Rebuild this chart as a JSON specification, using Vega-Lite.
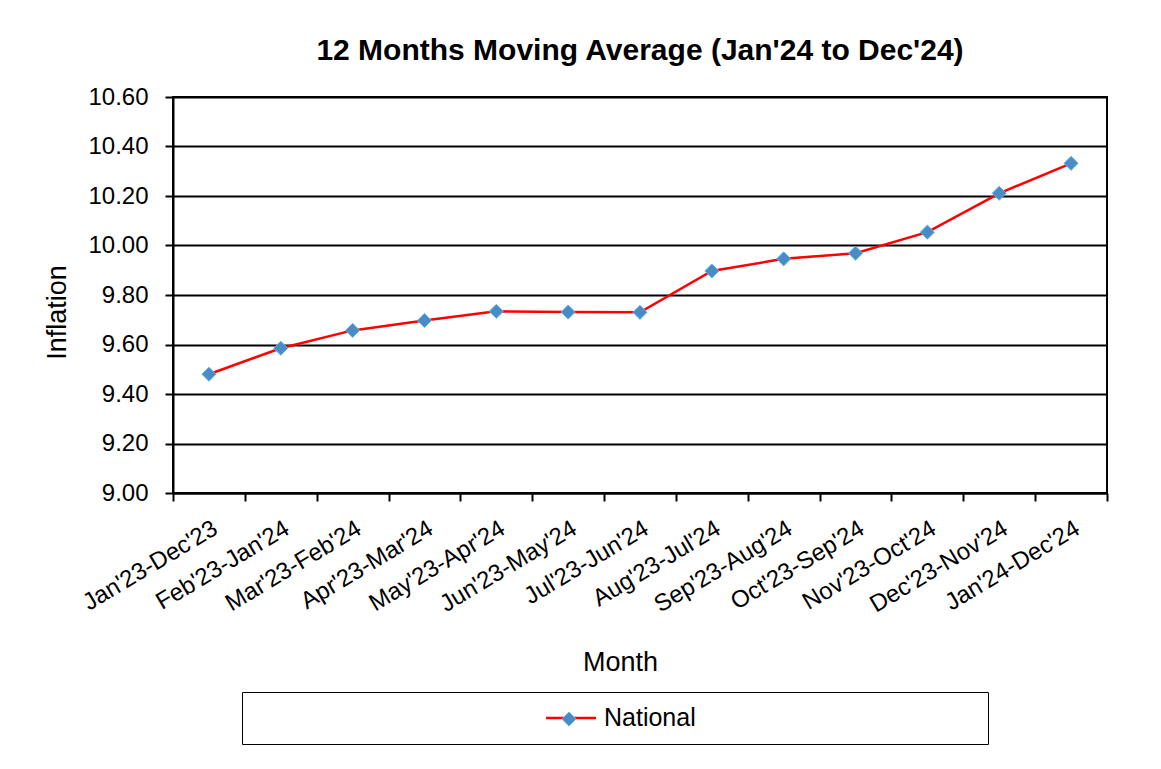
{
  "$schema": "https://vega.github.io/schema/vega-lite/v6.json",
  "width": 934,
  "height": 396,
  "padding": {"left": 43, "top": 36, "right": 5, "bottom": 5},
  "background": "white",
  "title": {
    "text": "12 Months Moving Average (Jan'24 to Dec'24)",
    "font": "Liberation Sans",
    "fontSize": 30,
    "fontWeight": "bold",
    "color": "black",
    "anchor": "middle",
    "offset": 19
  },
  "data": {
    "values": [
      {"period": "Jan'23-Dec'23", "inflation": 9.48, "series": "National"},
      {"period": "Feb'23-Jan'24", "inflation": 9.585, "series": "National"},
      {"period": "Mar'23-Feb'24", "inflation": 9.657, "series": "National"},
      {"period": "Apr'23-Mar'24", "inflation": 9.697, "series": "National"},
      {"period": "May'23-Apr'24", "inflation": 9.734, "series": "National"},
      {"period": "Jun'23-May'24", "inflation": 9.731, "series": "National"},
      {"period": "Jul'23-Jun'24", "inflation": 9.73, "series": "National"},
      {"period": "Aug'23-Jul'24", "inflation": 9.897, "series": "National"},
      {"period": "Sep'23-Aug'24", "inflation": 9.946, "series": "National"},
      {"period": "Oct'23-Sep'24", "inflation": 9.969, "series": "National"},
      {"period": "Nov'23-Oct'24", "inflation": 10.054, "series": "National"},
      {"period": "Dec'23-Nov'24", "inflation": 10.211, "series": "National"},
      {"period": "Jan'24-Dec'24", "inflation": 10.332, "series": "National"}
    ]
  },
  "config": {
    "font": "Liberation Sans",
    "view": {"stroke": "black", "strokeWidth": 2},
    "axis": {
      "labelFont": "Liberation Sans",
      "titleFont": "Liberation Sans",
      "labelColor": "black",
      "titleColor": "black",
      "titleFontWeight": "normal",
      "domainColor": "black",
      "domainWidth": 2,
      "tickColor": "black",
      "tickWidth": 2,
      "tickSize": 8,
      "gridColor": "black",
      "gridWidth": 2,
      "gridOpacity": 1
    },
    "legend": {"labelFont": "Liberation Sans", "titleFont": "Liberation Sans"}
  },
  "encoding": {
    "x": {
      "field": "period",
      "type": "nominal",
      "sort": null,
      "scale": {"paddingInner": 0, "paddingOuter": 0},
      "axis": {
        "title": "Month",
        "titleFontSize": 27,
        "titleX": 447,
        "titleY": 169,
        "titleBaseline": "middle",
        "titleAnchor": "middle",
        "labelAngle": -31,
        "labelFontSize": 24,
        "labelPadding": 15,
        "tickBand": "extent",
        "grid": false
      }
    },
    "y": {
      "field": "inflation",
      "type": "quantitative",
      "scale": {"domain": [9, 10.6], "nice": false, "zero": false},
      "axis": {
        "title": "Inflation",
        "titleFontSize": 27,
        "titleX": -116,
        "titleY": 215,
        "titleBaseline": "middle",
        "titleAngle": 270,
        "values": [9, 9.2, 9.4, 9.6, 9.8, 10, 10.2, 10.4, 10.6],
        "format": ".2f",
        "labelFontSize": 24,
        "labelPadding": 17,
        "grid": true
      }
    }
  },
  "layer": [
    {
      "mark": {"type": "line", "strokeWidth": 2.5},
      "encoding": {
        "stroke": {
          "field": "series",
          "type": "nominal",
          "scale": {"range": ["#ff0000"]},
          "legend": {
            "orient": "none",
            "legendX": 69,
            "legendY": 595,
            "padding": 6,
            "clipHeight": 40,
            "strokeColor": "black",
            "fillColor": "white",
            "symbolType": "stroke",
            "symbolSize": 2500,
            "symbolStrokeWidth": 2.5,
            "symbolOffset": 296.5,
            "labelOffset": 6.5,
            "labelFontSize": 25,
            "labelColor": "black",
            "title": " ",
            "titleOrient": "right",
            "titleFontSize": 1,
            "titlePadding": 285.5,
            "zindex": 1
          }
        }
      }
    },
    {
      "mark": {"type": "point", "shape": "diamond", "filled": true, "size": 200, "opacity": 1, "stroke": "#62b9ec", "strokeWidth": 1},
      "encoding": {
        "fill": {
          "datum": "National",
          "scale": {"range": ["#4a8bc6"]},
          "legend": {
            "orient": "none",
            "legendX": 388,
            "legendY": 614,
            "padding": 0,
            "title": null,
            "symbolType": "diamond",
            "symbolSize": 200,
            "symbolStrokeColor": "#62b9ec",
            "symbolStrokeWidth": 1,
            "labelExpr": "''",
            "labelFontSize": 1,
            "zindex": 3
          }
        }
      }
    }
  ]
}
